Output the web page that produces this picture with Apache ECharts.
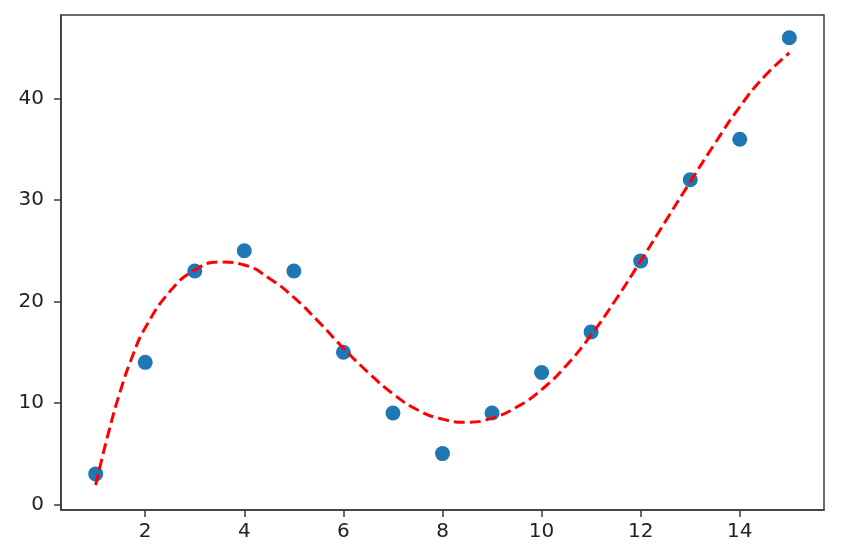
<!DOCTYPE html>
<html>
<head>
<meta charset="utf-8">
<script src="https://cdn.jsdelivr.net/npm/echarts@6/dist/echarts.min.js"></script>
<style>html,body{margin:0;padding:0;background:#fff;}#c{width:844px;height:553px;}</style>
</head>
<body>
<div id="c"></div>
<script>
// Scatter data
var pointX = [1, 2, 3, 4, 5, 6, 7, 8, 9, 10, 11, 12, 13, 14, 15];
var pointY = [3, 14, 23, 25, 23, 15, 9, 5, 9, 13, 17, 24, 32, 36, 46];
// Fitted curve
var curveX = [1, 1.25, 1.5, 1.75, 2, 2.5, 3, 3.5, 4, 4.5, 5, 5.5, 6, 6.5, 7, 7.5, 8, 8.5, 9, 9.5, 10, 10.5, 11, 11.5, 12, 12.5, 13, 13.5, 14, 14.5, 15];
var curveY = [1.9, 6.9, 11.2, 14.7, 17.4, 21.0, 23.1, 23.9, 23.6, 22.3, 20.4, 18.0, 15.4, 13.0, 10.9, 9.3, 8.4, 8.1, 8.5, 9.6, 11.3, 13.7, 16.7, 20.2, 24.0, 27.9, 31.8, 35.6, 39.2, 42.2, 44.5];
// Tick labels
var xTicks = [2, 4, 6, 8, 10, 12, 14];
var yTicks = [0, 10, 20, 30, 40];

var chart = echarts.init(document.getElementById('c'), null, {renderer: 'canvas'});
var font = 'DejaVu Sans';
chart.setOption({
  animation: false,
  backgroundColor: '#ffffff',
  grid: {left: 61, top: 15, right: 20, bottom: 43, show: true, borderColor: '#3a3a3a', borderWidth: 1.5, backgroundColor: 'transparent'},
  xAxis: {
    type: 'value', min: 0.3, max: 15.7,
    axisLine: {show: true, onZero: false, lineStyle: {color: '#3a3a3a', width: 1.5}},
    axisTick: {show: true, length: 7, customValues: xTicks, lineStyle: {color: '#3a3a3a', width: 1.5}},
    axisLabel: {customValues: xTicks, margin: 12, fontFamily: font, fontSize: 20, color: '#222222'},
    splitLine: {show: false}
  },
  yAxis: {
    type: 'value', min: -0.56, max: 48.25,
    axisLine: {show: true, onZero: false, lineStyle: {color: '#3a3a3a', width: 1.5}},
    axisTick: {show: true, length: 7, customValues: yTicks, lineStyle: {color: '#3a3a3a', width: 1.5}},
    axisLabel: {customValues: yTicks, margin: 17, fontFamily: font, fontSize: 20, color: '#222222'},
    splitLine: {show: false}
  },
  series: [
    {
      type: 'scatter',
      data: pointX.map(function (x, i) { return [x, pointY[i]]; }),
      symbol: 'circle', symbolSize: 15,
      itemStyle: {color: '#1f77b4', opacity: 1},
      z: 2
    },
    {
      type: 'line',
      data: curveX.map(function (x, i) { return [x, curveY[i]]; }),
      showSymbol: false, smooth: 0.5,
      lineStyle: {color: '#ff0000', width: 3, type: [11, 5]},
      z: 3
    }
  ]
});
</script>
</body>
</html>
